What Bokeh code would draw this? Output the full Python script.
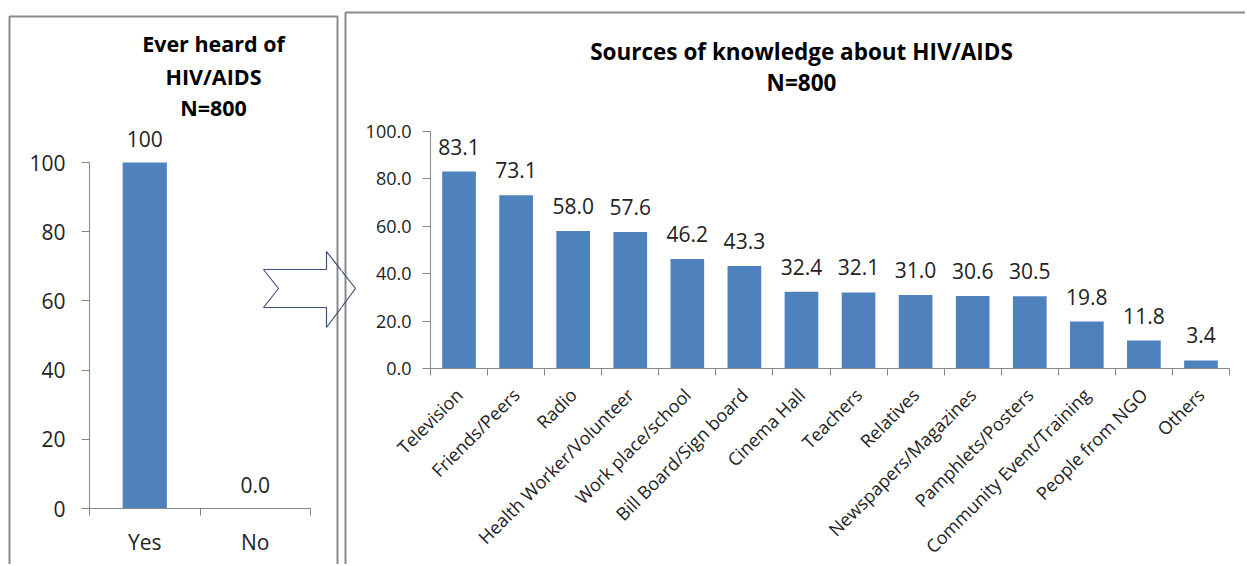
from bokeh.plotting import figure
from bokeh.layouts import row
from bokeh.models import Range1d, FixedTicker, NumeralTickFormatter, PolyAnnotation, ColumnDataSource
from bokeh.core.properties import value
from bokeh.embed import file_html
from bokeh.resources import INLINE
import math

# ---------------- data ----------------
heard_categories = ["Yes", "No"]
heard_values = [100, 0.0]
heard_labels = ["100", "0.0"]
heard_ticks = [0, 20, 40, 60, 80, 100]

source_categories = ["Television", "Friends/Peers", "Radio", "Health Worker/Volunteer",
                     "Work place/school", "Bill Board/Sign board", "Cinema Hall", "Teachers",
                     "Relatives", "Newspapers/Magazines", "Pamphlets/Posters",
                     "Community Event/Training", "People from NGO", "Others"]
source_values = [83.1, 73.1, 58.0, 57.6, 46.2, 43.3, 32.4, 32.1, 31.0, 30.6, 30.5, 19.8, 11.8, 3.4]
source_ticks = [0, 20, 40, 60, 80, 100]

# ---------------- style ----------------
FONT = value("Open Sans")
BAR = "#4F81BD"
AXIS = "#868686"
TXT = "#222222"
BOX = "#8A8A8A"
ARROW = "#3D5478"

H = 564          # canvas height
LW, RW = 341, 904  # canvas widths
R_X0 = LW          # page x where right canvas starts

# left chart scale: y=0 at page 508, 3.46 px per unit; x=0 at page 89, 110.5 px per category
L_SY, L_Y0, L_SX, L_X0 = 3.46, 508, 110.5, 89
# right chart scale: y=0 at page 368, 2.37 px per unit; x=0 at page 430, 57.07 px per category
R_SY, R_Y0, R_SX, R_X0P = 2.37, 368, 799 / 14, 430

def lx(px): return (px - L_X0) / L_SX
def ly(py): return (L_Y0 - py) / L_SY
def rx(px): return (px - R_X0P) / R_SX
def ry(py): return (R_Y0 - py) / R_SY

left_box = [(9, 16), (337, 16), (337, 700), (9, 700)]
right_box = [(345, 12), (1400, 12), (1400, 700), (345, 700)]
arrow = [(263, 269), (326, 269), (326, 251), (355, 288), (326, 327), (326, 307), (263, 307), (278, 288)]

def add_shapes(p, fx, fy):
    for shape, col, lw in ((left_box, BOX, 2), (right_box, BOX, 2), (arrow, ARROW, 1.2)):
        p.add_layout(PolyAnnotation(xs=[fx(a) for a, b in shape], ys=[fy(b) for a, b in shape],
                                    fill_color=None, fill_alpha=0, line_color=col,
                                    line_alpha=1.0, line_width=lw))

def style_axes(p, fs):
    p.xgrid.visible = False
    p.ygrid.visible = False
    p.outline_line_color = None
    for ax in (p.xaxis[0], p.yaxis[0]):
        ax.axis_line_color = AXIS
        ax.major_tick_line_color = AXIS
        ax.minor_tick_line_color = AXIS
        ax.major_label_text_font = "Open Sans"
        ax.major_label_text_font_size = fs
        ax.major_label_text_color = TXT
        ax.major_tick_in = 0
        ax.minor_tick_in = 0
        ax.fixed_location = 0

# ---------------- left chart ----------------
pL = figure(output_backend="svg", toolbar_location=None, tools="",
            frame_width=LW, frame_height=H,
            min_border_left=0, min_border_right=0, min_border_top=0, min_border_bottom=0,
            x_range=Range1d(lx(0), lx(LW)), y_range=Range1d(ly(H), ly(0)))
hx = [i + 0.5 for i in range(len(heard_categories))]
srcL = ColumnDataSource(dict(x=hx, top=heard_values, lab=heard_labels,
                             ly=[v + 24 / L_SY for v in heard_values]))
pL.vbar(x="x", top="top", width=0.4, source=srcL, fill_color=BAR, line_color=None)
pL.text(x="x", y="ly", text="lab", source=srcL, text_font=FONT, text_font_size="21px",
        text_color=TXT, text_align="center", text_baseline="middle")
for t, py in (("Ever heard of", 43), ("HIV/AIDS", 76), ("N=800", 107)):
    pL.text(x=[lx(213)], y=[ly(py)], text=[t], text_font=FONT, text_font_size="21.5px",
            text_font_style="bold", text_color="#000000", text_align="center", text_baseline="middle")
style_axes(pL, "21px")
pL.xaxis.ticker = FixedTicker(ticks=hx, minor_ticks=list(range(len(heard_categories) + 1)))
pL.xaxis.major_label_overrides = {x: c for x, c in zip(hx, heard_categories)}
pL.xaxis.bounds = (0, len(heard_categories))
pL.xaxis.major_tick_out = 0
pL.xaxis.minor_tick_out = 7
pL.xaxis.major_label_standoff = 12
pL.yaxis.ticker = FixedTicker(ticks=heard_ticks, minor_ticks=[])
pL.yaxis.bounds = (0, 100)
pL.yaxis.major_tick_out = 8
pL.yaxis.minor_tick_out = 0
pL.yaxis.major_label_standoff = 16
add_shapes(pL, lx, ly)

# ---------------- right chart ----------------
pR = figure(output_backend="svg", toolbar_location=None, tools="",
            frame_width=RW, frame_height=H,
            min_border_left=0, min_border_right=0, min_border_top=0, min_border_bottom=0,
            x_range=Range1d(rx(R_X0), rx(R_X0 + RW)), y_range=Range1d(ry(H), ry(0)))
sx = [i + 0.5 for i in range(len(source_categories))]
srcR = ColumnDataSource(dict(x=sx, top=source_values, lab=[f"{v:.1f}" for v in source_values],
                             ly=[v + 25 / R_SY for v in source_values]))
pR.vbar(x="x", top="top", width=0.59, source=srcR, fill_color=BAR, line_color=None)
pR.text(x="x", y="ly", text="lab", source=srcR, text_font=FONT, text_font_size="21px",
        text_color=TXT, text_align="center", text_baseline="middle")
for t, py in (("Sources of knowledge about HIV/AIDS", 51), ("N=800", 82)):
    pR.text(x=[rx(801)], y=[ry(py)], text=[t], text_font=FONT, text_font_size="22.5px",
            text_font_style="bold", text_color="#000000", text_align="center", text_baseline="middle")
style_axes(pR, "18px")
pR.xaxis.ticker = FixedTicker(ticks=sx, minor_ticks=list(range(len(source_categories) + 1)))
pR.xaxis.major_label_overrides = {x: c for x, c in zip(sx, source_categories)}
pR.xaxis.bounds = (0, len(source_categories))
pR.xaxis.major_label_orientation = math.pi / 4
pR.xaxis.major_label_text_font_size = "18px"
pR.xaxis.major_tick_out = 0
pR.xaxis.minor_tick_out = 7
pR.xaxis.major_label_standoff = 16
pR.yaxis.ticker = FixedTicker(ticks=source_ticks, minor_ticks=[])
pR.yaxis.formatter = NumeralTickFormatter(format="0.0")
pR.yaxis.bounds = (0, 100)
pR.yaxis.major_tick_out = 8
pR.yaxis.minor_tick_out = 0
pR.yaxis.major_label_standoff = 11
add_shapes(pR, rx, ry)

layout = row(pL, pR, spacing=0)
open("out.html", "w").write(file_html(layout, INLINE))
